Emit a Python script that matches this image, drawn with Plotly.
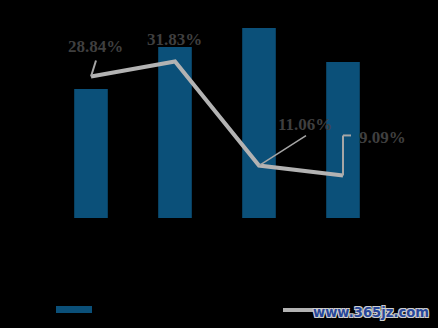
import plotly.graph_objects as go

categories = ["2015", "2016", "2017", "2018"]
bar_values = [129, 171, 190, 156]
growth_pct = [28.84, 31.83, 11.06, 9.09]
growth_labels = ["28.84%", "31.83%", "11.06%", "9.09%"]

# label offsets (pixels) relative to each point
label_dx = [4, -1, 46, 39]
label_dy = [30, 22, 41, 38]

BAR_COLOR = "#0b5079"
LINE_COLOR = "#b3b3b3"
LABEL_COLOR = "#3f3f3f"

W, H = 438, 328
L, R, T, B = 49, 53, 18, 110
PW, PH = W - L - R, H - T - B

fig = go.Figure()
fig.add_trace(go.Bar(x=categories, y=bar_values, marker=dict(color=BAR_COLOR, line=dict(width=0)),
                     width=0.4, name="营业收入", showlegend=False))
fig.add_trace(go.Scatter(x=categories, y=growth_pct, mode="lines", yaxis="y2",
                         line=dict(color=LINE_COLOR, width=4), name="增长率", showlegend=False))

annotations = []
for i, (v, t) in enumerate(zip(growth_pct, growth_labels)):
    annotations.append(dict(x=i, y=v, xref="x", yref="y2", text="<b>" + t + "</b>", showarrow=False,
                            xshift=label_dx[i], yshift=label_dy[i],
                            font=dict(family="Liberation Serif", size=17, color=LABEL_COLOR)))

annotations.append(dict(x=(371 - L) / PW, y=(T + PH - 312) / PH, xref="paper", yref="paper",
                        xanchor="center", yanchor="middle",
                        text="<b>www.365jz.com</b>", showarrow=False,
                        font=dict(family="DejaVu Sans", size=13.2, color="#27479a",
                                  shadow="1px 1px 0 #cfcfcf, -1px -1px 0 #cfcfcf, 1px -1px 0 #cfcfcf, -1px 1px 0 #cfcfcf")))

def pix_line(i, v, x0, y0, x1, y1, w=1.5):
    return dict(type="line", xref="x", yref="y2", xsizemode="pixel", ysizemode="pixel",
                xanchor=i, yanchor=v, x0=x0, y0=y0, x1=x1, y1=y1,
                line=dict(color="#a6a6a6", width=w), layer="above")

shapes = [
    pix_line(0, growth_pct[0], 0, 0, 5, 16, 2),
    pix_line(2, growth_pct[2], 0, 0, 47, 30, 1.5),
    pix_line(3, growth_pct[3], 0, 0, 0, 40, 2),
    pix_line(3, growth_pct[3], 0, 40, 8, 40, 2),
    # manual legend
    dict(type="rect", xref="paper", yref="paper",
         x0=(56 - L) / PW, x1=(92 - L) / PW, y0=(T + PH - 313) / PH, y1=(T + PH - 306) / PH,
         fillcolor=BAR_COLOR, line=dict(width=0)),
    dict(type="line", xref="paper", yref="paper",
         x0=(283 - L) / PW, x1=(322 - L) / PW, y0=(T + PH - 310) / PH, y1=(T + PH - 310) / PH,
         line=dict(color=LINE_COLOR, width=4)),
]

fig.update_layout(
    width=W, height=H, margin=dict(l=L, r=R, t=T, b=B),
    paper_bgcolor="black", plot_bgcolor="black",
    xaxis=dict(type="category", range=[-0.5, 3.5], showgrid=False, showticklabels=False,
               zeroline=False, showline=False),
    yaxis=dict(range=[0, 200], showgrid=False, showticklabels=False, zeroline=False, showline=False),
    yaxis2=dict(range=[0.6, 40.5], overlaying="y", side="right", showgrid=False,
                showticklabels=False, zeroline=False, showline=False),
    annotations=annotations, shapes=shapes, showlegend=False,
)

fig.write_html("out.html")
